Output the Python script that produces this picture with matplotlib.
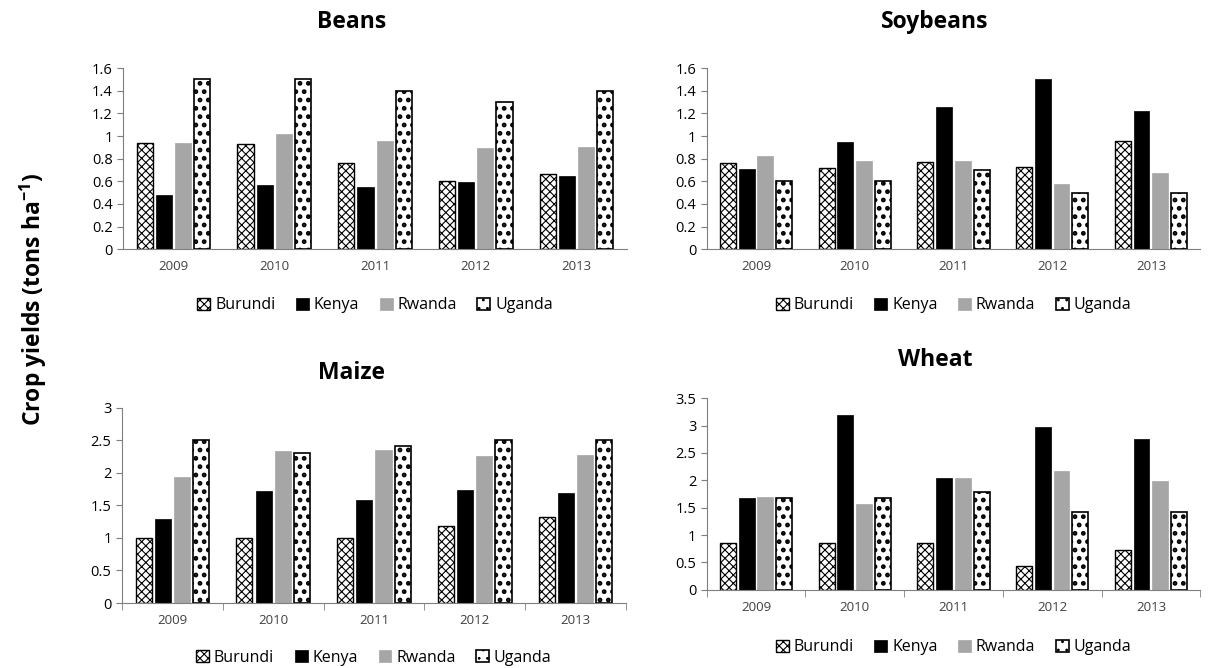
import matplotlib.pyplot as plt
import numpy as np

plt.rcParams['font.family'] = ['Open Sans', 'DejaVu Sans']
plt.rcParams['hatch.linewidth'] = 0.8

years = ['2009', '2010', '2011', '2012', '2013']
countries = ['Burundi', 'Kenya', 'Rwanda', 'Uganda']

beans_burundi = [0.94, 0.93, 0.76, 0.60, 0.66]
beans_kenya = [0.48, 0.57, 0.55, 0.59, 0.65]
beans_rwanda = [0.94, 1.02, 0.96, 0.89, 0.90]
beans_uganda = [1.50, 1.50, 1.40, 1.30, 1.40]

soy_burundi = [0.76, 0.72, 0.77, 0.73, 0.96]
soy_kenya = [0.71, 0.95, 1.26, 1.50, 1.22]
soy_rwanda = [0.82, 0.78, 0.78, 0.58, 0.67]
soy_uganda = [0.60, 0.60, 0.70, 0.50, 0.50]

maize_burundi = [1.00, 1.00, 1.00, 1.18, 1.32]
maize_kenya = [1.29, 1.72, 1.58, 1.74, 1.69]
maize_rwanda = [1.94, 2.34, 2.35, 2.26, 2.28]
maize_uganda = [2.50, 2.30, 2.41, 2.50, 2.50]

wheat_burundi = [0.85, 0.85, 0.85, 0.44, 0.73]
wheat_kenya = [1.67, 3.20, 2.05, 2.98, 2.76]
wheat_rwanda = [1.70, 1.57, 2.05, 2.17, 1.99]
wheat_uganda = [1.67, 1.67, 1.78, 1.43, 1.43]

fig = plt.figure(figsize=(12.1, 6.68), dpi=100)


def panel(rect, title, data, ymax, ystep, title_xy, leg_y, xticks_marks=True):
    ax = fig.add_axes(rect)
    x = np.arange(len(years))
    step = 0.19
    w = 0.16
    styles = [
        dict(facecolor='white', edgecolor='black', hatch='xxxx', linewidth=1.0),
        dict(facecolor='black', edgecolor='black', linewidth=0.5),
        dict(facecolor='#a6a6a6', edgecolor='#a6a6a6', linewidth=0.5),
        dict(facecolor='white', edgecolor='black', hatch='..', linewidth=1.2),
    ]
    for i, (vals, name) in enumerate(zip(data, countries)):
        hlw = 2.2 if i == 3 else 0.8
        with plt.rc_context({'hatch.linewidth': hlw}):
            ax.bar(x + (i - 1.5) * step, vals, w, label=name, **styles[i])
    ax.set_xlim(-0.5, len(years) - 0.5)
    ax.set_ylim(0, ymax)
    yt = np.arange(0, ymax + ystep / 2, ystep)
    ax.set_yticks(yt)
    ax.set_yticklabels(['%g' % round(v, 2) for v in yt])
    ax.set_xticks(x)
    ax.set_xticklabels(years, color='#404040')
    ax.tick_params(axis='x', length=0, labelsize=9.5, pad=8)
    ax.tick_params(axis='y', length=4, labelsize=10.5, color='#7f7f7f')
    if xticks_marks:
        ax.set_xticks(np.arange(-0.5, len(years), 1.0), minor=True)
        ax.tick_params(axis='x', which='minor', length=5, color='#7f7f7f')
    for s in ['top', 'right']:
        ax.spines[s].set_visible(False)
    for s in ['left', 'bottom']:
        ax.spines[s].set_color('#7f7f7f')
    fig.text(title_xy[0], title_xy[1], title, ha='center', va='center',
             fontsize=16.5, fontweight='bold')
    ax.legend(loc='center', bbox_to_anchor=(0.5, leg_y), ncol=4, frameon=False,
              fontsize=11.5, handlelength=0.8, handleheight=0.8,
              handletextpad=0.3, columnspacing=1.3)
    return ax


panel([0.1017, 0.627, 0.4165, 0.271], 'Beans',
      [beans_burundi, beans_kenya, beans_rwanda, beans_uganda],
      1.6, 0.2, (352 / 1210, 1 - 22 / 668), -0.31, xticks_marks=False)
panel([0.584, 0.627, 0.408, 0.271], 'Soybeans',
      [soy_burundi, soy_kenya, soy_rwanda, soy_uganda],
      1.6, 0.2, (935 / 1210, 1 - 22 / 668), -0.31, xticks_marks=False)
panel([0.1008, 0.0973, 0.4165, 0.292], 'Maize',
      [maize_burundi, maize_kenya, maize_rwanda, maize_uganda],
      3.0, 0.5, (352 / 1210, 1 - 373 / 668), -0.28)
panel([0.584, 0.117, 0.408, 0.287], 'Wheat',
      [wheat_burundi, wheat_kenya, wheat_rwanda, wheat_uganda],
      3.5, 0.5, (935 / 1210, 1 - 360 / 668), -0.30)

fig.text(0.028, 1 - 300 / 668, 'Crop yields (tons ha$^{\\mathregular{-1}}$)', rotation=90,
         ha='center', va='center', fontsize=16.5, fontweight='bold')

fig.savefig('out.png', dpi=100)
